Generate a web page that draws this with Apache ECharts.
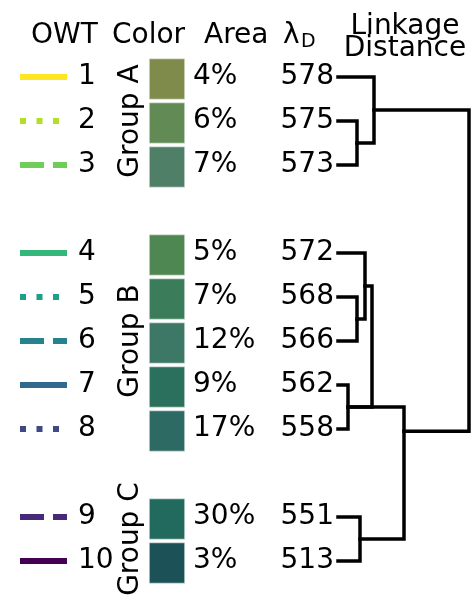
<!DOCTYPE html>
<html>
<head>
<meta charset="utf-8">
<script src="https://cdn.jsdelivr.net/npm/echarts@6/dist/echarts.min.js"></script>
<style>
  html, body { margin: 0; padding: 0; background: #ffffff; }
  #chart { width: 472px; height: 600px; }
</style>
</head>
<body>
<div id="chart"></div>
<script>
// Optical water types, their group, area share and dominant wavelength
const owtNames   = ['1', '2', '3', '4', '5', '6', '7', '8', '9', '10'];
const groupNames = ['Group A', 'Group B', 'Group C'];
const owtGroup   = [0, 0, 0, 1, 1, 1, 1, 1, 2, 2];
const areaPct    = [4, 6, 7, 5, 7, 12, 9, 17, 30, 3];
const lambdaD    = [578, 575, 573, 572, 568, 566, 562, 558, 551, 513];

// True colour of each type
const owtColors = ['#7f8b4b', '#618a55', '#4f7f66', '#4e8752', '#3b7c5a',
                   '#3d7866', '#2b705c', '#2c6a63', '#236a5e', '#1b5157'];

// Line key: viridis colours and a solid / dotted / dashed cycle
const keyColors = ['#fde725', '#b5de2b', '#6ece58', '#35b779', '#1f9e89',
                   '#26828e', '#31688e', '#3e4989', '#482878', '#440154'];
const keyStyles = ['solid', 'dotted', 'dashed', 'solid', 'dotted',
                   'dashed', 'solid', 'dotted', 'dashed', 'solid'];

// Dendrogram links: [upper row, lower row, upper child distance, lower child distance, merge distance]
const linkRows = [
  [1, 2, 0, 0, 1.9],
  [0, 1.5, 0, 1.9, 3.6],
  [5, 6, 0, 0, 1.9],
  [4, 5.5, 0, 1.9, 2.7],
  [7, 8, 0, 0, 1.0],
  [4.75, 7.5, 2.7, 1.0, 3.4],
  [10, 11, 0, 0, 2.2],
  [7.5, 10.5, 1.0, 2.2, 6.6],
  [0.75, 8.05, 3.6, 6.6, 13.1]
];
const maxDistance = 13.1;

// Row position of every type: a blank row separates consecutive groups
const rowOf = owtNames.map((_, i) => i + owtGroup[i]);
const rowCount = rowOf[rowOf.length - 1] + 1;

const FONT = 'DejaVu Sans';
const FS = 28;
const GRID_TOP = 55, GRID_H = 528;

const rowAxis = (gridIndex) => ({
  type: 'value', gridIndex, min: -0.5, max: rowCount - 0.5, inverse: true, show: false
});

const chart = echarts.init(document.getElementById('chart'), null, { renderer: 'canvas' });

const series = [];

// Line key
owtNames.forEach((name, i) => {
  let type = keyStyles[i];
  if (type === 'dotted') type = [6, 10.5];
  if (type === 'dashed') type = [24, 9];
  series.push({
    type: 'line', xAxisIndex: 0, yAxisIndex: 0, silent: true, symbol: 'none',
    data: [[20, rowOf[i]], [67, rowOf[i]]],
    lineStyle: { color: keyColors[i], width: 6, type: type, cap: 'butt' },
    animation: false
  });
});

const textSeries = (data, position, extra) => ({
  type: 'scatter', xAxisIndex: 0, yAxisIndex: 0, silent: true, symbolSize: 0,
  itemStyle: { opacity: 1 },
  data: data,
  label: Object.assign({
    show: true, position: position, distance: 0,
    formatter: (p) => p.value[2],
    fontFamily: FONT, fontSize: FS, color: '#000', opacity: 1
  }, extra || {}),
  animation: false
});

// Type numbers, area share and dominant wavelength labels
series.push(textSeries(owtNames.map((n, i) => [78, rowOf[i], n]), 'right'));
series.push(textSeries(areaPct.map((v, i) => [193, rowOf[i], v + '%']), 'right'));
series.push(textSeries(lambdaD.map((v, i) => [334, rowOf[i], String(v)]), 'left'));

// Group labels, centred on their rows
const groupCenters = groupNames.map((g, gi) => {
  const rows = rowOf.filter((_, i) => owtGroup[i] === gi);
  return (rows[0] + rows[rows.length - 1]) / 2;
});
series.push(textSeries(groupNames.map((g, gi) => [131, groupCenters[gi], g]), 'inside',
  { rotate: 90, align: 'center', verticalAlign: 'middle' }));

// Colour swatches
series.push({
  type: 'bar', xAxisIndex: 1, yAxisIndex: 1, silent: true,
  barWidth: 41,
  data: owtNames.map((n, i) => ({
    value: [1, rowOf[i]],
    itemStyle: { color: owtColors[i], borderColor: '#e8efe8', borderWidth: 0.6 }
  })),
  animation: false
});

// Dendrogram
linkRows.forEach((l) => {
  const [yTop, yBot, dTop, dBot, dMerge] = l;
  series.push({
    type: 'line', xAxisIndex: 2, yAxisIndex: 2, silent: true, symbol: 'none',
    data: [[dTop, yTop], [dMerge, yTop], [dMerge, yBot], [dBot, yBot]],
    lineStyle: { color: '#000', width: 3.5, cap: 'square', join: 'miter' },
    animation: false
  });
});

const headerStyle = (text, x, y, extra) => ({
  type: 'text', x, y,
  style: Object.assign({ text, fontFamily: FONT, fontSize: FS, fill: '#000', verticalAlign: 'middle' }, extra || {})
});

chart.setOption({
  backgroundColor: '#ffffff',
  animation: false,
  grid: [
    { left: 0, top: GRID_TOP, width: 472, height: GRID_H },
    { left: 149, top: GRID_TOP + 2, width: 36, height: GRID_H },
    { left: 338, top: GRID_TOP, width: 131, height: GRID_H }
  ],
  xAxis: [
    { type: 'value', gridIndex: 0, min: 0, max: 472, show: false },
    { type: 'value', gridIndex: 1, min: 0, max: 1, show: false },
    { type: 'value', gridIndex: 2, min: 0, max: maxDistance, show: false }
  ],
  yAxis: [
    rowAxis(0),
    { type: 'category', gridIndex: 1, inverse: true, show: false,
      data: Array.from({ length: rowCount }, (_, i) => i) },
    rowAxis(2)
  ],
  graphic: [
    headerStyle('OWT', 31, 36),
    headerStyle('Color', 112, 36),
    headerStyle('Area', 204, 36),
    headerStyle('λ', 283, 36),
    headerStyle('D', 301, 42, { fontSize: 19 }),
    headerStyle('Linkage', 405, 27, { align: 'center' }),
    headerStyle('Distance', 405, 49, { align: 'center' })
  ],
  series: series
});
</script>
</body>
</html>
